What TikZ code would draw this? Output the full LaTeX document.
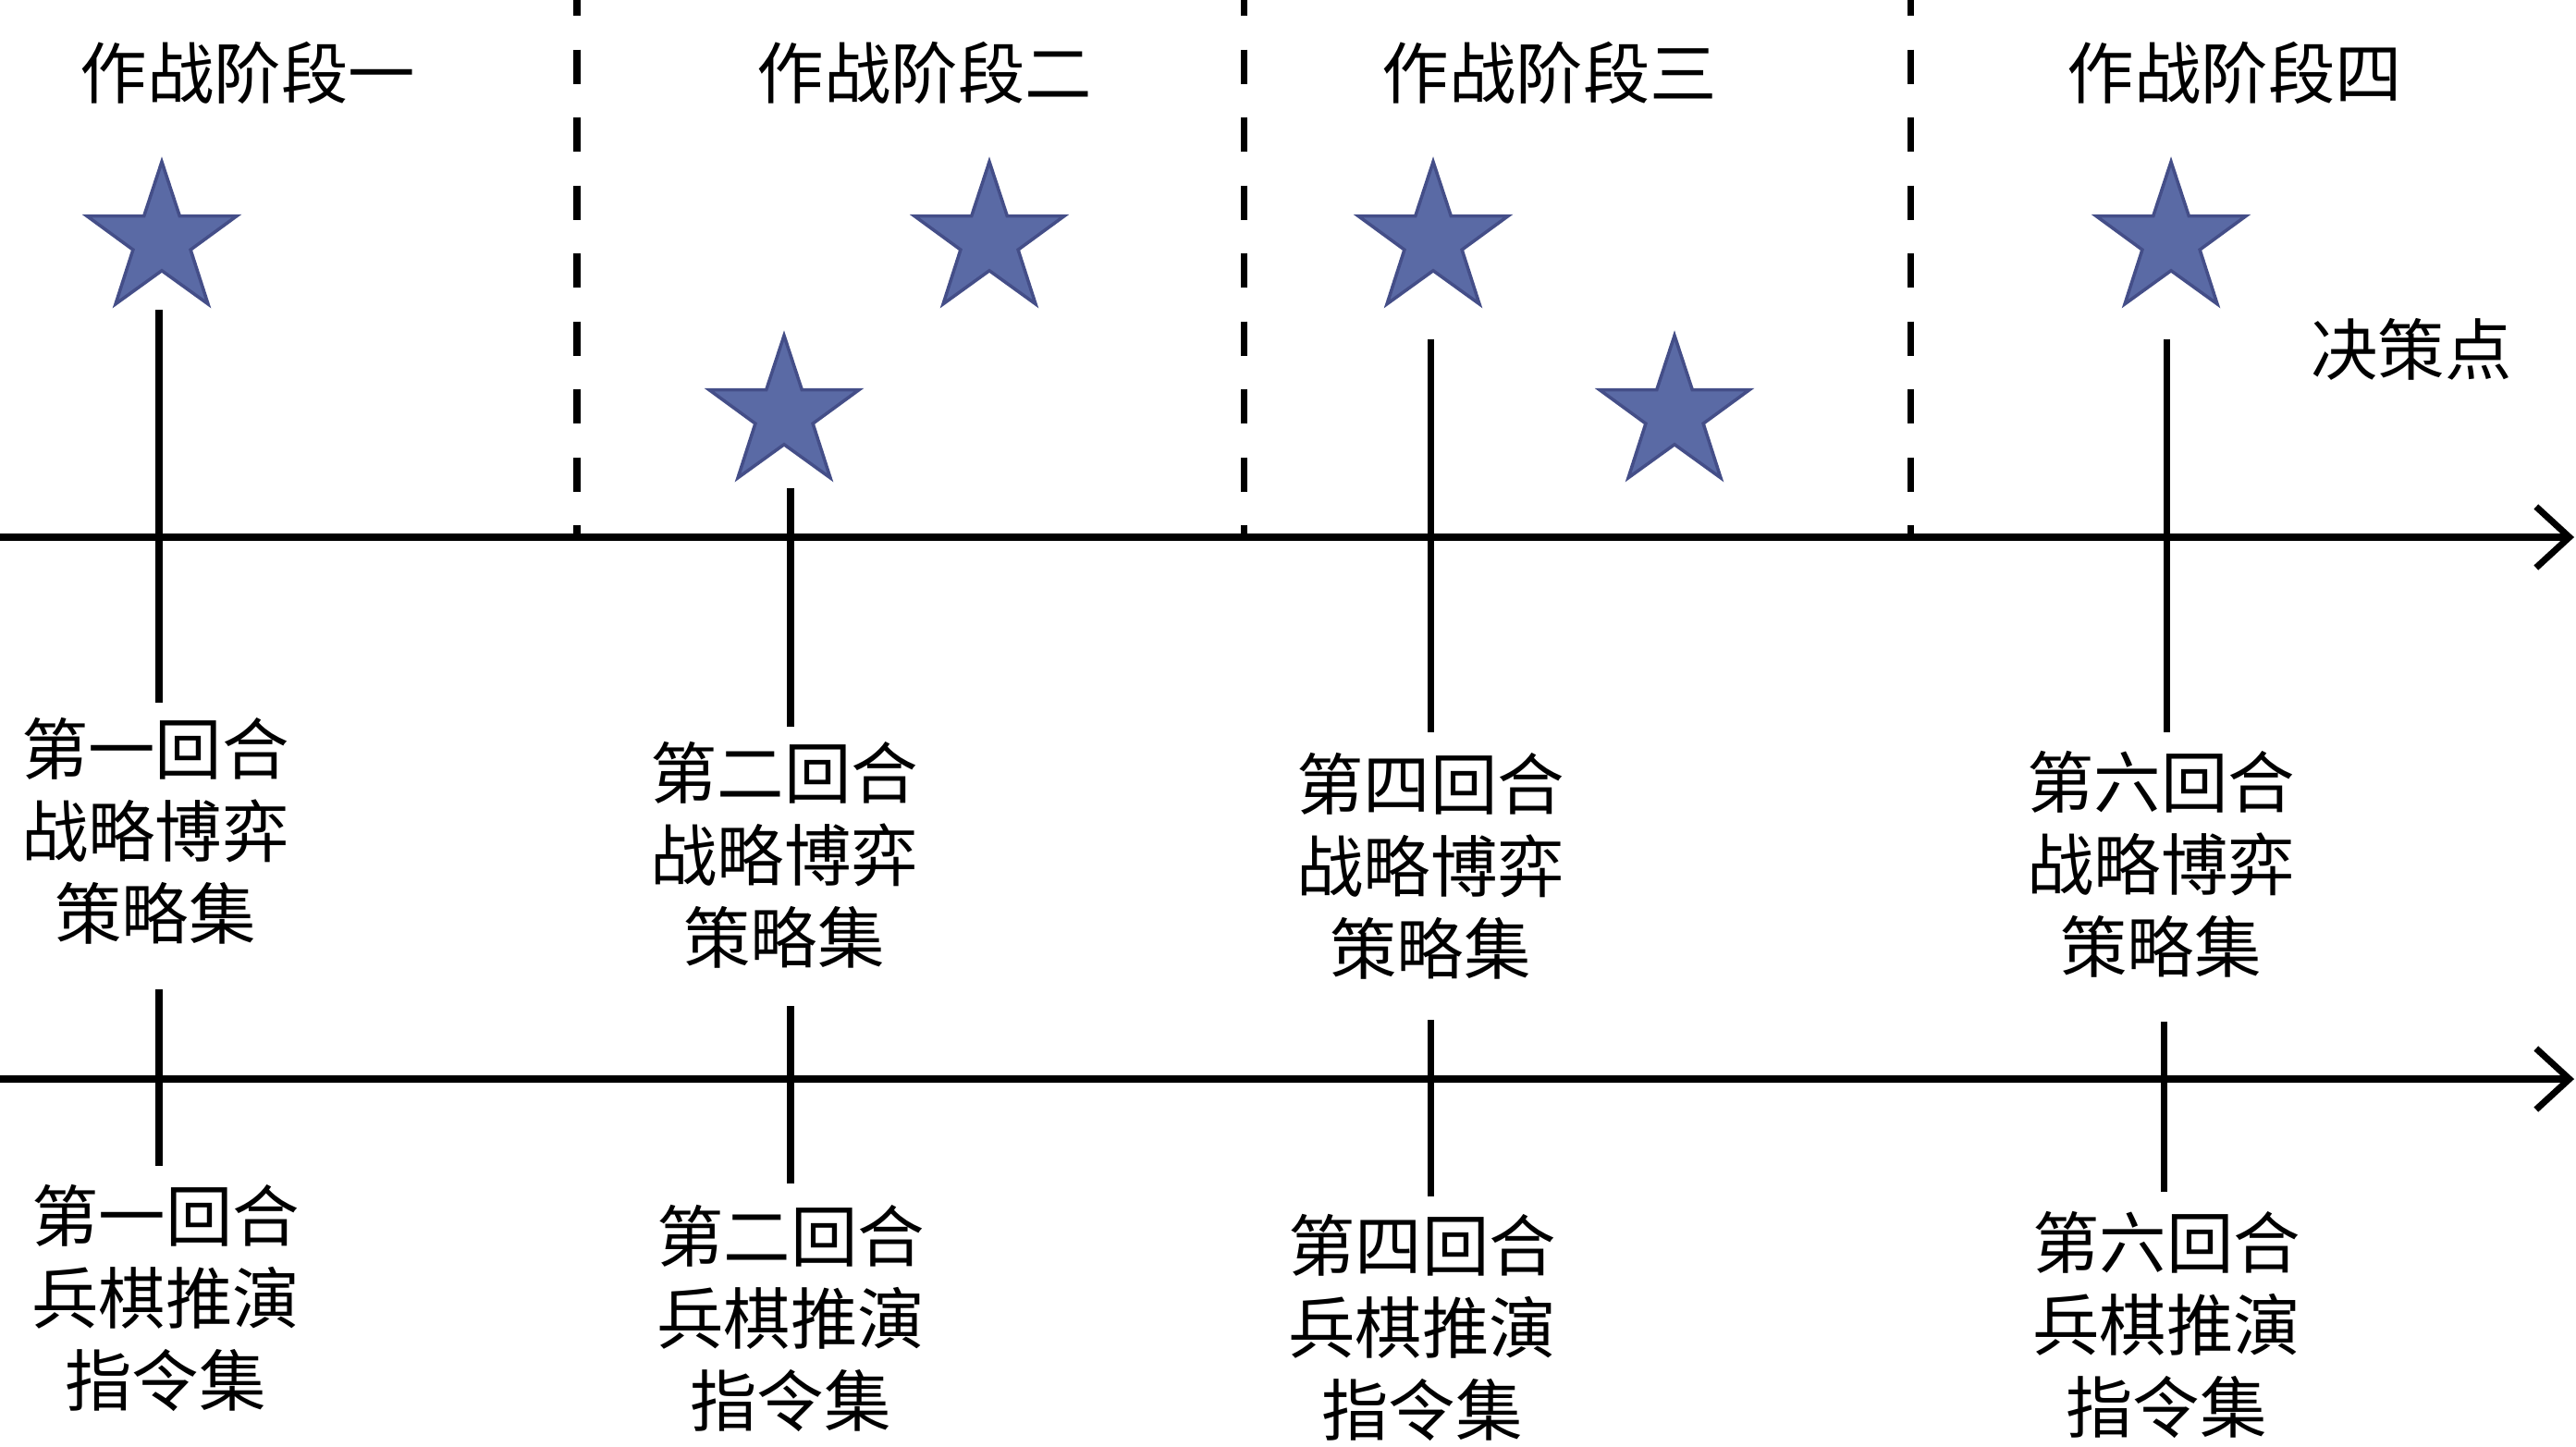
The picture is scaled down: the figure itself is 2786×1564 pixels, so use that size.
\documentclass[tikz,border=0pt]{standalone}
\usepackage{fontspec}
\newfontfamily\cjk{Noto Sans CJK SC}
\usetikzlibrary{shapes.geometric,arrows.meta}
\definecolor{starfill}{RGB}{90,106,165}
\definecolor{stardraw}{RGB}{68,78,136}

\begin{document}
\begin{tikzpicture}[x=0.01cm,y=-0.01cm]
\useasboundingbox (0,0) rectangle (2786,1564);
\tikzset{
  axis/.style={line width=2pt,-{Straight Barb[length=0.36cm,width=0.66cm]}},
  tick/.style={line width=2pt},
  border/.style={line width=2pt,dash pattern=on 0.37cm off 0.365cm,dash phase=0.2cm}
}

\coordinate (d1) at (624,0);    \coordinate (e1) at (624,581);
\coordinate (d2) at (1345,0);   \coordinate (e2) at (1345,581);
\coordinate (d3) at (2066,0);   \coordinate (e3) at (2066,581);
\draw[border] (d1) -- (e1);
\draw[border] (d2) -- (e2);
\draw[border] (d3) -- (e3);

\coordinate (a0) at (0,581);  \coordinate (a1) at (2784,581);
\coordinate (b0) at (0,1167); \coordinate (b1) at (2784,1167);
\draw[axis] (a0) -- (a1);
\draw[axis] (b0) -- (b1);

\begin{scope}[every node/.style={star,star points=5,star point ratio=2.6,minimum size=1.70cm,inner sep=0pt,fill=starfill,draw=stardraw,line width=1pt}]
\node (s1) at (175,260) {};
\node (s2) at (848,448) {};
\node (s3) at (1070,260) {};
\node (s4) at (1550,260) {};
\node (s5) at (1811,448) {};
\node (s6) at (2348,260) {};
\end{scope}

\coordinate (t1) at (172,335);  \coordinate (u1) at (172,760);
\coordinate (t2) at (855,528);  \coordinate (u2) at (855,786);
\coordinate (t3) at (1547,367); \coordinate (u3) at (1547,792);
\coordinate (t4) at (2343,367); \coordinate (u4) at (2343,792);
\draw[tick] (t1) -- (u1);
\draw[tick] (t2) -- (u2);
\draw[tick] (t3) -- (u3);
\draw[tick] (t4) -- (u4);

\coordinate (v1) at (172,1070);  \coordinate (w1) at (172,1261);
\coordinate (v2) at (855,1088);  \coordinate (w2) at (855,1280);
\coordinate (v3) at (1547,1103); \coordinate (w3) at (1547,1294);
\coordinate (v4) at (2340,1105); \coordinate (w4) at (2340,1289);
\draw[tick] (v1) -- (w1);
\draw[tick] (v2) -- (w2);
\draw[tick] (v3) -- (w3);
\draw[tick] (v4) -- (w4);

\begin{scope}[every node/.style={font=\cjk\fontsize{20.6}{25.3}\selectfont,align=center,inner sep=0pt}]
\node (p1) at (268,79) {作战阶段一};
\node (p2) at (1000,79) {作战阶段二};
\node (p3) at (1676,79) {作战阶段三};
\node (p4) at (2417,79) {作战阶段四};
\node (dp) at (2608,378) {决策点};

\node (g1) at (168,899) {第一回合\\战略博弈\\策略集};
\node (g2) at (848,925) {第二回合\\战略博弈\\策略集};
\node (g3) at (1547,937) {第四回合\\战略博弈\\策略集};
\node (g4) at (2337,935) {第六回合\\战略博弈\\策略集};

\node (h1) at (179,1404) {第一回合\\兵棋推演\\指令集};
\node (h2) at (855,1426) {第二回合\\兵棋推演\\指令集};
\node (h3) at (1538,1436) {第四回合\\兵棋推演\\指令集};
\node (h4) at (2343,1433) {第六回合\\兵棋推演\\指令集};
\end{scope}
\end{tikzpicture}
\end{document}
